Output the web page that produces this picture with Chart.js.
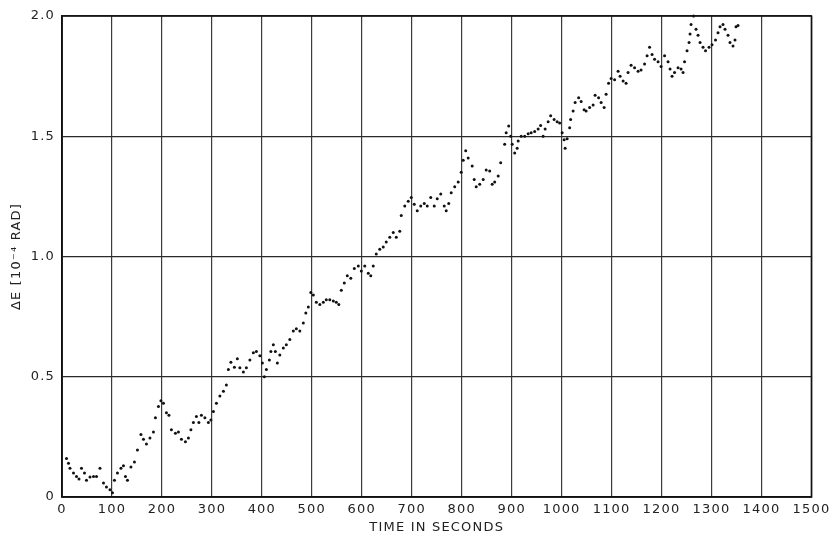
<!DOCTYPE html>
<html>
<head>
<meta charset="utf-8">
<script src="https://cdn.jsdelivr.net/npm/chart.js@4/dist/chart.umd.min.js"></script>
<style>
  html, body { margin: 0; padding: 0; background: #ffffff; }
  #wrap { width: 833px; height: 537px; position: relative; }
</style>
</head>
<body>
<div id="wrap"><canvas id="c" width="833" height="537"></canvas></div>
<script>
// Time in seconds
const times = [9,13,16,23,29,34,39,45,49,56,63,69,76,83,89,96,101,105,111,118,123,127,131,138,145,151,158,163,169,176,183,187,193,198,203,209,214,219,227,233,239,247,253,258,263,269,274,279,286,293,298,303,309,316,323,329,333,338,345,351,356,363,369,376,383,389,396,401,405,409,415,418,423,427,431,436,443,449,456,463,469,476,483,488,493,498,503,509,516,523,529,536,543,549,554,559,565,571,578,585,593,599,606,613,618,623,629,636,643,649,656,663,669,676,679,686,693,699,705,711,718,725,731,738,745,751,758,765,769,774,779,786,793,799,803,808,813,821,825,829,836,843,849,856,861,866,873,878,886,889,894,898,901,906,911,913,919,926,933,939,946,953,958,963,967,973,978,985,991,996,1001,1005,1007,1011,1016,1018,1023,1027,1034,1039,1045,1049,1056,1063,1067,1074,1079,1085,1089,1094,1099,1106,1113,1117,1123,1129,1133,1139,1146,1153,1159,1166,1171,1176,1181,1186,1193,1199,1206,1213,1217,1221,1226,1233,1239,1243,1246,1251,1255,1257,1259,1264,1269,1273,1277,1283,1288,1295,1301,1308,1313,1317,1323,1327,1333,1337,1343,1347,1349,1353];
// Delta E in 10^-4 rad
const deltaE = [0.16,0.14,0.12,0.10,0.085,0.075,0.12,0.10,0.07,0.083,0.085,0.085,0.12,0.058,0.042,0.03,0.018,0.07,0.10,0.12,0.13,0.085,0.07,0.125,0.146,0.195,0.26,0.24,0.22,0.245,0.27,0.33,0.376,0.40,0.39,0.35,0.34,0.28,0.265,0.27,0.24,0.23,0.245,0.28,0.31,0.335,0.31,0.34,0.33,0.31,0.32,0.355,0.39,0.42,0.44,0.466,0.53,0.56,0.54,0.575,0.537,0.52,0.537,0.57,0.60,0.605,0.587,0.557,0.50,0.53,0.57,0.605,0.633,0.605,0.557,0.59,0.62,0.633,0.655,0.69,0.70,0.69,0.724,0.765,0.79,0.85,0.84,0.81,0.80,0.81,0.82,0.82,0.815,0.81,0.80,0.86,0.89,0.92,0.91,0.95,0.96,0.94,0.96,0.93,0.92,0.96,1.01,1.03,1.04,1.06,1.08,1.10,1.08,1.105,1.17,1.21,1.23,1.245,1.217,1.19,1.21,1.22,1.21,1.245,1.21,1.24,1.26,1.21,1.19,1.22,1.265,1.29,1.31,1.35,1.40,1.44,1.41,1.376,1.32,1.29,1.30,1.32,1.36,1.355,1.30,1.31,1.335,1.39,1.467,1.515,1.543,1.50,1.467,1.43,1.45,1.48,1.50,1.50,1.51,1.515,1.52,1.53,1.545,1.50,1.53,1.56,1.585,1.57,1.56,1.555,1.515,1.485,1.45,1.49,1.535,1.57,1.605,1.64,1.66,1.645,1.61,1.605,1.62,1.63,1.67,1.66,1.64,1.62,1.675,1.72,1.74,1.735,1.77,1.75,1.73,1.72,1.765,1.795,1.785,1.77,1.775,1.80,1.835,1.87,1.84,1.82,1.81,1.79,1.835,1.81,1.78,1.75,1.765,1.785,1.78,1.765,1.81,1.855,1.89,1.925,1.965,2.0,1.945,1.92,1.89,1.87,1.855,1.87,1.88,1.90,1.93,1.955,1.965,1.945,1.92,1.89,1.875,1.90,1.955,1.96];
const xTicks = [0,100,200,300,400,500,600,700,800,900,1000,1100,1200,1300,1400,1500];
const yTicks = [0,0.5,1.0,1.5,2.0];
const yTickLabels = ['0','0.5','1.0','1.5','2.0'];

const points = times.map((t, i) => ({ x: t, y: deltaE[i] }));
const FONT = 'DejaVu Sans';

new Chart(document.getElementById('c'), {
  type: 'scatter',
  data: {
    datasets: [{
      data: points,
      showLine: false,
      pointRadius: 1.5,
      pointHoverRadius: 1.5,
      pointBackgroundColor: '#111',
      pointBorderWidth: 0,
      clip: 3
    }]
  },
  options: {
    responsive: false,
    animation: false,
    devicePixelRatio: 1,
    layout: { padding: { left: 0, top: 16, right: 20, bottom: 0 } },
    plugins: { legend: { display: false }, tooltip: { enabled: false } },
    scales: {
      x: {
        type: 'linear',
        min: 0, max: 1500,
        afterBuildTicks: s => { s.ticks = xTicks.map(v => ({ value: v })); },
        afterFit: s => { s.height = 40; },
        grid: { color: '#3a3a3a', lineWidth: 1.2, drawTicks: false },
        border: { color: '#111', width: 1.6 },
        ticks: { color: '#222', font: { family: FONT, size: 13 }, padding: 5, maxRotation: 0, autoSkip: false,
                 callback: v => String(v) },
        title: { display: true, text: 'TIME IN SECONDS', color: '#222', font: { family: FONT, size: 13 }, padding: { top: 0, bottom: 2 } }
      },
      y: {
        type: 'linear',
        min: 0, max: 2,
        afterBuildTicks: s => { s.ticks = yTicks.map(v => ({ value: v })); },
        afterFit: s => { s.width = 62; },
        grid: { color: '#2a2a2a', lineWidth: 1.2, drawTicks: false },
        border: { color: '#111', width: 1.6 },
        ticks: { color: '#222', font: { family: FONT, size: 13 }, padding: 7, autoSkip: false,
                 callback: v => { const i = yTicks.indexOf(v); return i >= 0 ? yTickLabels[i] : ''; } },
        title: { display: true, text: 'ΔE [10⁻⁴ RAD]', color: '#222', font: { family: FONT, size: 13 }, padding: { top: 9, bottom: 0 } }
      }
    }
  },
  plugins: [{
    id: 'spacing',
    beforeDraw(chart) { chart.ctx.letterSpacing = '1.2px'; }
  }, {
    id: 'frame',
    afterDraw(chart) {
      const { ctx, chartArea: a } = chart;
      ctx.save();
      ctx.strokeStyle = '#111';
      ctx.lineWidth = 1.6;
      ctx.strokeRect(a.left, a.top, a.right - a.left, a.bottom - a.top);
      ctx.restore();
    }
  }]
});
</script>
</body>
</html>
